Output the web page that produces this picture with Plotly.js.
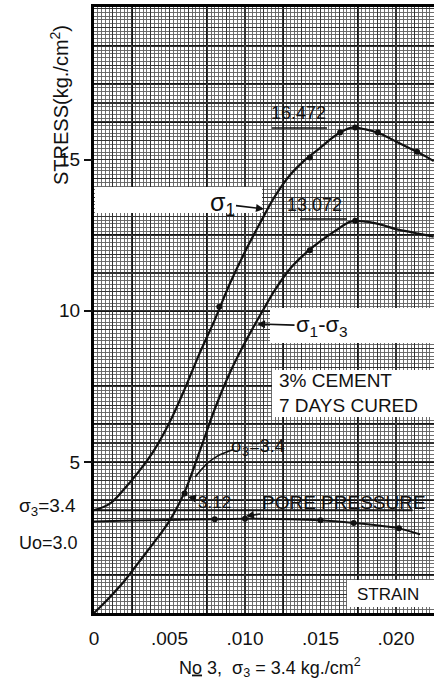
<!DOCTYPE html>
<html><head><meta charset="utf-8">
<script src="https://cdn.plot.ly/plotly-3.0.1.min.js"></script>
<style>html,body{margin:0;padding:0;background:#fff;}#chart{width:434px;height:688px;}</style>
</head><body><div id="chart"></div>
<script>
// ---- data ----
// sigma_1 curve
const strainS1 = [0, 0.001, 0.002, 0.003, 0.004, 0.005, 0.006, 0.007, 0.008, 0.009, 0.010, 0.011, 0.012, 0.013, 0.014, 0.015, 0.016, 0.017, 0.018, 0.019, 0.020, 0.021, 0.022, 0.0225];
const sigma1   = [3.4, 3.6, 4.1, 4.7, 5.4, 6.3, 7.4, 8.6, 9.7, 10.9, 11.95, 12.9, 13.8, 14.5, 15.0, 15.4, 15.8, 16.05, 16.0, 15.85, 15.6, 15.35, 15.1, 14.95];
// sigma_1 test points (dots)
const strainS1Pts = [0.0083, 0.0143, 0.0163, 0.0173, 0.0188, 0.0214];
const sigma1Pts   = [10.13, 15.07, 15.9, 16.06, 15.9, 15.26];
// sigma_1 - sigma_3 curve
const strainDev = [0, 0.001, 0.002, 0.003, 0.004, 0.005, 0.006, 0.007, 0.008, 0.009, 0.010, 0.011, 0.012, 0.013, 0.014, 0.015, 0.016, 0.017, 0.018, 0.019, 0.020, 0.021, 0.022, 0.0225];
const deviator  = [0, 0.5, 1.05, 1.7, 2.35, 3.05, 4.0, 5.35, 6.75, 7.95, 8.95, 9.85, 10.7, 11.4, 11.9, 12.3, 12.65, 12.95, 12.95, 12.85, 12.7, 12.6, 12.5, 12.45];
const strainDevPts = [0.006, 0.0143, 0.0173];
const deviatorPts  = [3.95, 12.0, 12.98];
// pore pressure
const strainU = [0, 0.0025, 0.005, 0.008, 0.010, 0.015, 0.0172, 0.0202, 0.0216];
const porePressure = [3.03, 3.06, 3.08, 3.1, 3.12, 3.07, 2.98, 2.8, 2.6];
const strainUPts = [0.008, 0.010, 0.015, 0.0172, 0.0202];
const poreUPts   = [3.1, 3.12, 3.07, 2.98, 2.8];
// confining pressure line and sigma_3 leader curve
const strainS3 = [0, 0.0211];
const sigma3 = [3.4, 3.4];
const strainHump = [0.0067, 0.0075, 0.0082, 0.0088, 0.0092];
const humpStress = [4.5, 4.95, 5.2, 5.33, 5.4];
// ticks
const xTickVals = [0, 0.005, 0.010, 0.015, 0.020];
const xTickText = ['0', '.005', '.010', '.015', '.020'];
const yTickVals = [5, 10, 15];
const yTickText = ['5', '10', '15'];

// ---- styling ----
const FONT = 'Liberation Sans, Arial, sans-serif';
const XR = [0, 0.02252], YR = [0, 20.05];
const L = 94, T = 7, B = 613, W = 340, H = 606;
const PX = p => (p - L) / W, PY = p => (B - p) / H;

const line = {color: '#111', width: 2.2, shape: 'spline', smoothing: 1};
const dot = {color: '#111', size: 6};
const traces = [
  {x: strainS1, y: sigma1, mode: 'lines', line: line, hoverinfo: 'skip'},
  {x: strainS1Pts, y: sigma1Pts, mode: 'markers', marker: dot, hoverinfo: 'skip'},
  {x: strainDev, y: deviator, mode: 'lines', line: line, hoverinfo: 'skip'},
  {x: strainDevPts, y: deviatorPts, mode: 'markers', marker: dot, hoverinfo: 'skip'},
  {x: strainU, y: porePressure, mode: 'lines', line: {color: '#111', width: 2, shape: 'spline', smoothing: 0.8}, hoverinfo: 'skip'},
  {x: strainUPts, y: poreUPts, mode: 'markers', marker: dot, hoverinfo: 'skip'},
  {x: strainS3, y: sigma3, mode: 'lines', line: {color: '#111', width: 2.2}, hoverinfo: 'skip'},
  {x: strainHump, y: humpStress, mode: 'lines', line: {color: '#111', width: 1.6, shape: 'spline', smoothing: 0.8}, hoverinfo: 'skip'},
  {x: [null], y: [null], xaxis: 'x2', yaxis: 'y2', mode: 'lines', hoverinfo: 'skip'},
  {x: [null], y: [null], xaxis: 'x3', yaxis: 'y3', mode: 'lines', hoverinfo: 'skip'}
];

const tf = {family: FONT, size: 19, color: '#111'};
function ann(px, py, text, size, extra) {
  return Object.assign({xref: 'paper', yref: 'paper', x: PX(px), y: PY(py), text: text,
    xanchor: 'center', yanchor: 'middle',
    showarrow: false, font: {family: FONT, size: size, color: '#111'}}, extra || {});
}
function arrowAnn(tx, ty, hx, hy, text, size, extra) {
  return ann(hx, hy, text, size, Object.assign({showarrow: true, arrowhead: 2, arrowsize: 1, arrowwidth: 1.6,
    arrowcolor: '#111', ax: tx - hx, ay: ty - hy, standoff: 0}, extra || {}));
}
function box(x0, x1, y0, y1) {
  return {type: 'rect', xref: 'paper', yref: 'paper', x0: PX(x0), x1: PX(x1), y0: PY(y1), y1: PY(y0),
    fillcolor: '#fff', line: {width: 0}, layer: 'above'};
}
function uline(x0, x1, y) {
  return {type: 'line', xref: 'paper', yref: 'paper', x0: PX(x0), x1: PX(x1), y0: PY(y), y1: PY(y),
    line: {color: '#111', width: 1.6}, layer: 'above'};
}

const shapes = [
  box(95, 262, 187, 213),
  box(270, 434, 308, 343),
  box(272, 434, 370, 417),
  box(347, 434, 580, 607),
  uline(272, 327, 128),
  uline(300, 347, 219)
];

const annotations = [
  ann(298, 113, '16.472', 18),
  arrowAnn(222, 204, 264, 209, 'σ<sub>1</sub>', 25),
  ann(314, 205, '13.072', 18),
  arrowAnn(322, 326, 257, 324, 'σ<sub>1</sub>-σ<sub>3</sub>', 22),
  ann(277, 393, '3% CEMENT<br>7 DAYS CURED', 19, {xanchor: 'left', align: 'left'}),
  ann(258, 447, 'σ<sub>3</sub>=3.4', 18),
  arrowAnn(214, 502, 188, 497, '3.12', 17),
  arrowAnn(344, 502, 246, 516, 'PORE PRESSURE', 19),
  ann(388, 594, 'STRAIN', 17),
  ann(47, 507, 'σ<sub>3</sub>=3.4', 19),
  ann(48, 543, 'Uo=3.0', 18),
  ann(60, 105, 'STRESS(kg./cm<sup>2</sup>)', 20, {textangle: -90}),
  ann(270, 667, 'N<u>o</u> 3,  σ<sub>3</sub> = 3.4 kg./cm<sup>2</sup>', 18)
];

const baseAx = {zeroline: false, showticklabels: false, ticks: '', fixedrange: true};
const layout = {
  width: 434, height: 688,
  margin: {l: L, r: 0, t: T, b: 688 - B, pad: 0},
  paper_bgcolor: '#fff', plot_bgcolor: '#fff',
  showlegend: false,
  xaxis: Object.assign({}, baseAx, {range: XR, tick0: 0, dtick: 0.0025, showgrid: true, gridcolor: '#151515', gridwidth: 1.7,
    minor: {tick0: 0, dtick: 0.00025, showgrid: true, gridcolor: '#5e5e5e', gridwidth: 0.9},
    showline: true, mirror: true, linecolor: '#000', linewidth: 2.6}),
  yaxis: Object.assign({}, baseAx, {range: YR, tick0: 0, dtick: 1.25, showgrid: true, gridcolor: '#151515', gridwidth: 1.7,
    minor: {tick0: 0, dtick: 0.125, showgrid: true, gridcolor: '#5e5e5e', gridwidth: 0.9},
    showline: true, mirror: true, linecolor: '#000', linewidth: 2.6}),
  xaxis3: Object.assign({}, baseAx, {overlaying: 'x', anchor: 'y3', range: XR, tick0: 0, dtick: 0.00125, showgrid: true, gridcolor: '#333', gridwidth: 1.1}),
  yaxis3: Object.assign({}, baseAx, {overlaying: 'y', anchor: 'x3', range: YR, tick0: 0, dtick: 0.625, showgrid: true, gridcolor: '#333', gridwidth: 1.1}),
  xaxis2: {overlaying: 'x', anchor: 'y2', side: 'bottom', range: XR, tickvals: xTickVals, ticktext: xTickText,
    ticks: 'outside', ticklen: 8, tickcolor: 'rgba(0,0,0,0)', showgrid: false, zeroline: false, showline: false,
    tickfont: {family: FONT, size: 19, color: '#111'}, fixedrange: true},
  yaxis2: {overlaying: 'y', anchor: 'x2', side: 'left', range: YR, tickvals: yTickVals, ticktext: yTickText,
    ticks: 'outside', ticklen: 9, tickwidth: 2, tickcolor: '#111', showgrid: false, zeroline: false, showline: false,
    tickfont: tf, fixedrange: true},
  annotations: annotations,
  shapes: shapes
};

Plotly.newPlot('chart', traces, layout, {staticPlot: true, displayModeBar: false});
</script>
</body></html>
